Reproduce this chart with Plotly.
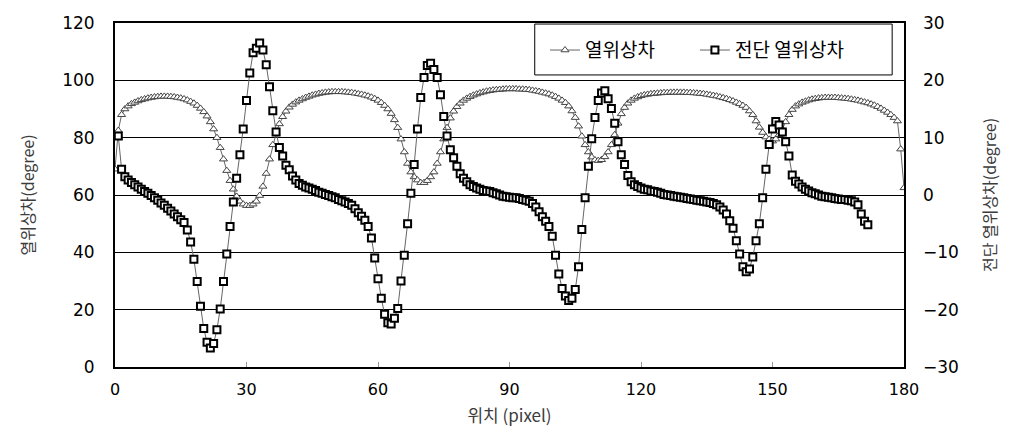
import plotly.graph_objects as go

# Colours / fonts
C_TEXT = "#000000"
C_TITLE = "#3c3c3c"
C_LINE = "#666666"
C_GRID = "#000000"
FONT_NUM = "DejaVu Sans, Noto Sans CJK KR"
FONT_KR = "Noto Sans CJK KR, DejaVu Sans"

STEP = 0.75  # sampling interval along 위치 (pixel)

# 열위상차 (left axis, degree) at x = 0, 0.75, ..., 180
phase_diff = [
    69, 82.5, 88, 90, 91, 91.8, 92.3, 92.8,
    93.2, 93.5, 93.8, 94, 94.2, 94.3, 94.4, 94.4,
    94.4, 94.3, 94.2, 94, 93.8, 93.5, 93.1, 92.6,
    92, 91.2, 90.2, 89, 87.5, 85.5, 83, 80,
    76.5, 72.5, 68.5, 65, 62, 59.5, 57.8, 56.8,
    56.3, 56.3, 56.8, 57.8, 59.8, 63, 67.5, 72.5,
    77.5, 81.5, 84.8, 87.3, 89.2, 90.6, 91.6, 92.4,
    93, 93.5, 94, 94.4, 94.8, 95.1, 95.4, 95.6,
    95.8, 95.9, 96, 96, 96, 96, 95.9, 95.8,
    95.7, 95.5, 95.3, 95.1, 94.8, 94.5, 94.1, 93.6,
    93, 92.2, 91.2, 90, 88.4, 86.2, 83.5, 79.5,
    75, 71, 68, 66.3, 65.2, 64.3, 64.3, 65,
    66.3, 68, 71, 75, 79.5, 83.5, 86.8, 89.2,
    90.8, 92, 93, 93.7, 94.3, 94.8, 95.2, 95.6,
    95.9, 96.2, 96.4, 96.6, 96.7, 96.8, 96.9, 97,
    97, 97, 97, 96.9, 96.9, 96.8, 96.7, 96.5,
    96.3, 96.1, 95.8, 95.5, 95.2, 94.8, 94.3, 93.7,
    93, 92.2, 91, 89.3, 87, 84, 80.5, 77.5,
    75, 73.2, 72.2, 72, 72.3, 73.3, 75, 77.5,
    81, 85, 88.3, 90.5, 92, 93, 93.7, 94.2,
    94.6, 94.9, 95.1, 95.3, 95.4, 95.5, 95.6, 95.7,
    95.7, 95.8, 95.8, 95.8, 95.8, 95.8, 95.7, 95.7,
    95.6, 95.5, 95.4, 95.3, 95.1, 94.9, 94.7, 94.5,
    94.2, 93.9, 93.6, 93.2, 92.8, 92.3, 91.8, 91.2,
    90.5, 89.3, 88, 85.8, 83.6, 81.8, 80.2, 79.4,
    78.8, 79.5, 81, 83, 85.5, 88, 89.8, 91,
    91.7, 92.3, 92.7, 93.1, 93.4, 93.6, 93.8, 93.9,
    94, 94, 94, 94, 93.9, 93.8, 93.7, 93.6,
    93.4, 93.2, 93, 92.7, 92.4, 92.1, 91.7, 91.3,
    90.8, 90.2, 89.5, 88.8, 88, 87, 85.8, 76,
    62.5,
]

# 전단 열위상차 (right axis, degree) at x = 0.75, 1.5, ..., 171.75
shear_phase_diff = [
    10.3, 4.5, 3.2, 2.6, 2.2, 1.8, 1.4, 1.0,
    0.6, 0.3, -0.1, -0.5, -0.9, -1.4, -1.8, -2.3,
    -2.8, -3.3, -3.8, -4.3, -4.8, -6.1, -8.2, -11.2,
    -15.1, -19.4, -23.3, -25.7, -26.7, -25.9, -23.5, -19.9,
    -15.1, -10.3, -5.5, -1.2, 2.9, 7, 11.5, 16.5,
    21.3, 24.8, 25.6, 26.5, 25.3, 22.7, 18.9, 14.7,
    11, 8.3, 6.8, 5.2, 4.4, 3.3, 2.6, 2.0,
    1.7, 1.4, 1.2, 1.0, 0.8, 0.5, 0.3, 0.1,
    -0.1, -0.3, -0.5, -0.8, -1.0, -1.2, -1.5, -1.8,
    -2.4, -3.1, -3.7, -4.4, -5.5, -7.5, -11, -14.6,
    -18, -20.8, -22.3, -22.5, -21.5, -19.8, -15, -10.5,
    -5, 0.3, 5.3, 11.5, 17, 20.5, 22.6, 23,
    21.9, 20.5, 17.5, 13.7, 10.3, 7.9, 6.5, 5,
    3.7, 2.9, 2.3, 1.8, 1.5, 1.2, 1.0, 0.8,
    0.7, 0.6, 0.4, 0.2, 0, -0.2, -0.3, -0.4,
    -0.5, -0.5, -0.6, -0.8, -0.9, -1.1, -1.5, -2.1,
    -2.9, -3.8, -4.6, -5.5, -7.2, -10.5, -13.8, -16.3,
    -17.6, -18.4, -18, -16.5, -12.5, -6, -0.5, 5,
    9.8, 13.5, 16.5, 17.8, 18.2, 16.8, 15.1, 12.5,
    9.3, 7, 5.3, 3.4, 2.3, 1.8, 1.5, 1.2,
    1.0, 0.9, 0.7, 0.6, 0.5, 0.3, 0.1, 0,
    -0.1, -0.2, -0.3, -0.4, -0.5, -0.6, -0.7, -0.8,
    -0.9, -1.0, -1.1, -1.2, -1.3, -1.5, -1.7, -2.1,
    -2.6, -3.3, -4.5, -5.8, -8, -10.3, -12.5, -13.4,
    -12.9, -10.8, -8, -5, -0.5, 4.5, 8.8, 11.5,
    12.8, 12.2, 11, 9.3, 6.8, 3.5, 2.4, 1.9,
    1.4, 1.0, 0.7, 0.4, 0.2, 0, -0.2, -0.3,
    -0.4, -0.5, -0.6, -0.7, -0.8, -0.8, -0.9, -1.0,
    -1.2, -1.7, -3.3, -4.6, -5.2,
]

x_phase = [round(i * STEP, 2) for i in range(len(phase_diff))]
x_shear = [round((i + 1) * STEP, 2) for i in range(len(shear_phase_diff))]

fig = go.Figure()

fig.add_trace(go.Scatter(
    x=x_phase, y=phase_diff, mode="lines+markers", name="열위상차",
    line=dict(color=C_LINE, width=1),
    marker=dict(symbol="triangle-up", size=7, color="white",
                line=dict(color="#444444", width=1)),
    legend="legend",
))
fig.add_trace(go.Scatter(
    x=x_shear, y=shear_phase_diff, mode="lines+markers", name="전단 열위상차",
    yaxis="y2",
    line=dict(color=C_LINE, width=1),
    marker=dict(symbol="square", size=7, color="white",
                line=dict(color="#000000", width=2)),
    legend="legend2",
))

# legend frame
fig.add_shape(type="rect", xref="paper", yref="paper",
              x0=0.532, x1=0.985, y0=0.849, y1=0.997,
              line=dict(color="black", width=1), fillcolor="white", layer="below")

leg_common = dict(orientation="h", yanchor="middle", y=0.921, bgcolor="rgba(0,0,0,0)",
                  borderwidth=0, font=dict(size=19, color=C_TEXT, family=FONT_KR),
                  xanchor="left")

# the page body adds an 8px offset, so the figure is drawn 8px smaller
fig.update_layout(
    width=1003, height=419,
    plot_bgcolor="white", paper_bgcolor="white",
    font=dict(family=FONT_NUM, color=C_TEXT, size=16),
    margin=dict(l=107, r=107, t=15, b=60, autoexpand=False),
    xaxis=dict(
        range=[0, 180], dtick=30, tick0=0, automargin=False,
        showline=True, mirror=True, linecolor="black", linewidth=2,
        showgrid=False, zeroline=False,
        ticks="inside", ticklen=5, tickcolor="#999999", tickwidth=1,
        ticklabelstandoff=7,
        tickfont=dict(size=16, family=FONT_NUM),
        title=dict(text="위치 (pixel)", font=dict(size=17, family=FONT_KR, color=C_TITLE), standoff=12),
    ),
    yaxis=dict(
        range=[0, 120], dtick=20, tick0=0, automargin=False,
        showline=True, mirror=True, linecolor="black", linewidth=2,
        showgrid=True, gridcolor=C_GRID, gridwidth=1, zeroline=False,
        ticks="", ticklabelstandoff=15,
        tickfont=dict(size=17, family=FONT_NUM),
        title=dict(text="열위상차(degree)", font=dict(size=16, family=FONT_KR, color=C_TITLE), standoff=24),
    ),
    yaxis2=dict(
        range=[-30, 30], dtick=10, tick0=-30, automargin=False,
        overlaying="y", side="right",
        showgrid=False, zeroline=False, showline=False,
        ticks="", ticklabelstandoff=18,
        tickfont=dict(size=17, family=FONT_NUM),
        title=dict(text="전단 열위상차(degree)", font=dict(size=16, family=FONT_KR, color=C_TITLE), standoff=26),
    ),
    legend=dict(x=0.545, **leg_common),
    legend2=dict(x=0.735, **leg_common),
    showlegend=True,
)

fig.write_html("out.html")
